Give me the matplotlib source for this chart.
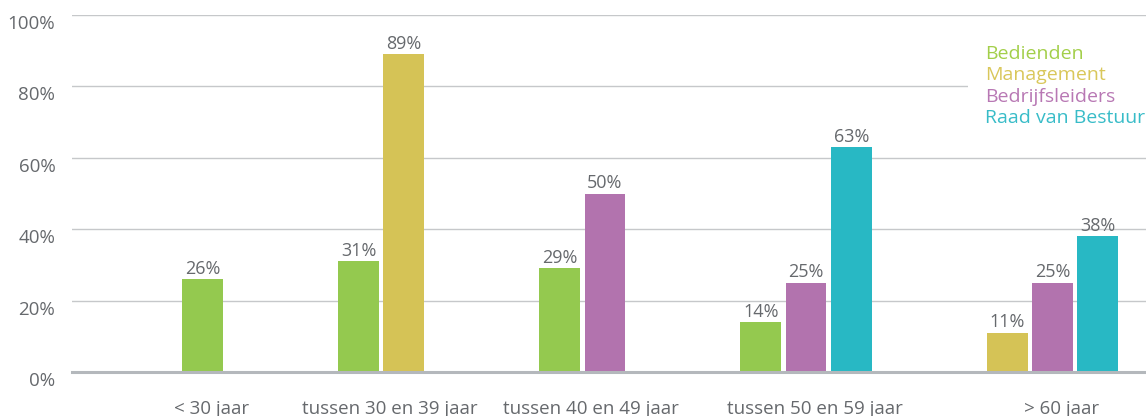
import matplotlib
matplotlib.use("Agg")
import matplotlib.pyplot as plt
import matplotlib.transforms as mtransforms
from matplotlib.patches import Rectangle

categories = ['< 30 jaar', 'tussen 30 en 39 jaar', 'tussen 40 en 49 jaar',
              'tussen 50 en 59 jaar', '> 60 jaar']
series_names = ['Bedienden', 'Management', 'Bedrijfsleiders', 'Raad van Bestuur']
bedienden = [26, 31, 29, 14, None]
management = [None, 89, None, None, 11]
bedrijfsleiders = [None, None, 50, 25, 25]
raad_van_bestuur = [None, None, None, 63, 38]
yticks = [0, 20, 40, 60, 80, 100]

series_values = [bedienden, management, bedrijfsleiders, raad_van_bestuur]
colors = ['#94c94f', '#d5c356', '#b273ae', '#28b8c4']
text_colors = ['#a3cf4a', '#d9c75a', '#b878b4', '#38bcc8']

plt.rcParams['font.family'] = ['Open Sans', 'DejaVu Sans']
grey = '#66696d'
W, H = 1146, 416

fig = plt.figure(figsize=(W / 100, H / 100), dpi=100)
ax = fig.add_axes([72 / W, 1 - 372 / H, 1 - 72 / W, (372 - 15) / H])

bar_w = 0.9
group_gap = 3.45
x = 0.0
group_centers = []
for gi, cat in enumerate(categories):
    pos = []
    for si, vals in enumerate(series_values):
        v = vals[gi]
        if v is None:
            continue
        ax.bar(x, v, width=bar_w, color=colors[si], zorder=3)
        ax.annotate(f'{v}%', (x, v), xytext=(0, 1), textcoords='offset points',
                    ha='center', va='bottom', fontsize=13, color=grey, zorder=4)
        pos.append(x)
        x += 1
    group_centers.append((pos[0] + pos[-1]) / 2)
    x = pos[-1] + group_gap

ax.set_xlim(-2.887, 20.87)
ax.set_ylim(0, 100)
ax.set_yticks(yticks)
ax.set_yticklabels([f'{t}%' for t in yticks])
ax.set_xticks([c + 0.2 for c in group_centers])
ax.set_xticklabels(categories)

ax.grid(axis='y', color='#c6c8ca', linewidth=1, zorder=0)
ax.axhline(0, color='#b4b8bc', linewidth=2.2, zorder=5, clip_on=False)
for s in ax.spines.values():
    s.set_visible(False)
ax.tick_params(axis='both', length=0, labelsize=13.5, labelcolor=grey)
ax.tick_params(axis='y', pad=12)
ax.tick_params(axis='x', pad=20)
off = mtransforms.ScaledTranslation(0, -7 / 100, fig.dpi_scale_trans)
for lab in ax.get_yticklabels():
    lab.set_transform(lab.get_transform() + off)

# legend as coloured text on a white panel
fig.patches.append(Rectangle((968 / W, 1 - 132 / H), (W - 968) / W, 90 / H,
                             transform=fig.transFigure, facecolor='white',
                             edgecolor='none', zorder=6))
for i, (name, c) in enumerate(zip(series_names, text_colors)):
    fig.text(985 / W, 1 - (54 + 21.3 * i) / H, name, color=c, fontsize=14,
             ha='left', va='center', zorder=7)

fig.savefig('out.png', dpi=100)
